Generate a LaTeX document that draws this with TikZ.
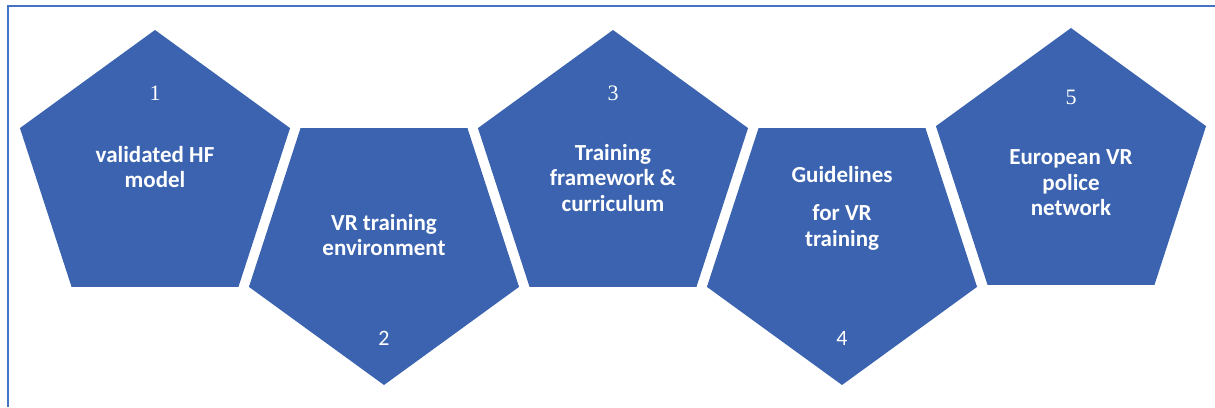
\documentclass[tikz,border=0pt]{standalone}
\usepackage{fontspec}
\setmainfont{Carlito}
\newfontfamily\numserif{Liberation Serif}
\definecolor{pentblue}{RGB}{59,99,176}
\definecolor{frameblue}{RGB}{68,114,196}
\tikzset{
  pent/.style={fill=pentblue},
  pentlabel/.style={text=white,align=center,inner sep=0pt,font=\bfseries\fontsize{23}{25.5}\selectfont},
  pentnum/.style={text=white,inner sep=0pt,font=\fontsize{22}{22}\selectfont}
}

\begin{document}
\begin{tikzpicture}[x=1pt,y=1pt]
    \useasboundingbox (0,0) rectangle (1215,407);
    % frame, only its left and top edges show
    \draw[frameblue,line width=2.6pt] (8,0) -- (8,401) -- (1215,401);
    % centres of the five pentagons
    \coordinate (p1) at (155,235);
    \coordinate (p2) at (384,164);
    \coordinate (p3) at (613,235);
    \coordinate (p4) at (842,164);
    \coordinate (p5) at (1071,237);
    \foreach \c/\r in {p1/0,p2/180,p3/0,p4/180,p5/0}
        \fill[pent,shift={(\c)},rotate=\r] (90:142) -- (162:142) -- (234:142) -- (306:142) -- (18:142) -- cycle;
    % numbers
    \node[pentnum] (num1) at (155,314) {\numserif 1};
    \node[pentnum] (num2) at (384,69) {2};
    \node[pentnum] (num3) at (613,314) {\numserif 3};
    \node[pentnum] (num4) at (842,69) {4};
    \node[pentnum] (num5) at (1071,310) {\numserif 5};
    % texts
    \node[pentlabel] (txt1) at (155,240) {validated HF\\model};
    \node[pentlabel] (txt2) at (384,172) {VR training\\environment};
    \node[pentlabel] (txt3) at (613,229) {Training\\framework \&\\curriculum};
    \node[pentlabel] (txt4) at (842,199) {Guidelines\\[13pt]for VR\\training};
    \node[pentlabel] (txt5) at (1071,224) {European VR\\police\\network};
\end{tikzpicture}
\end{document}
